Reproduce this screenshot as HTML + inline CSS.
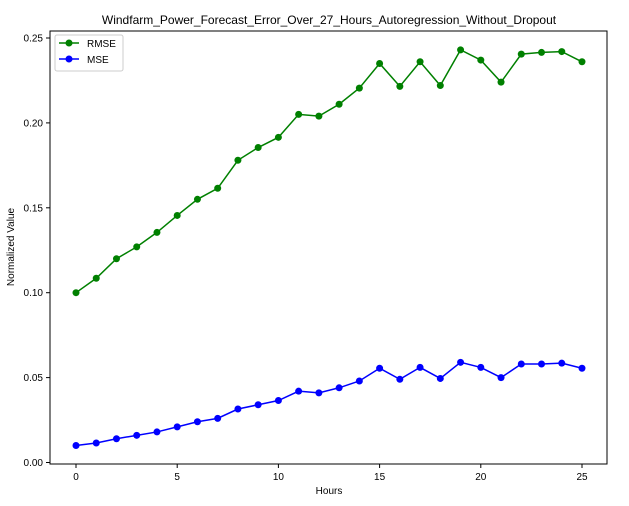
<!DOCTYPE html>
<html><head><meta charset="utf-8"><style>
body{margin:0;background:#fff;}
svg text{font-family:"Liberation Sans","DejaVu Sans",sans-serif;}
</style></head><body>
<svg id="chart" width="629" height="501" viewBox="0 0 629 501">
<rect width="629" height="501" fill="#fff"/>
<text x="329" y="24" text-anchor="middle" font-size="12">Windfarm_Power_Forecast_Error_Over_27_Hours_Autoregression_Without_Dropout</text>
<g id="grid"></g>
<g id="series"></g>
<rect x="50" y="31" width="557" height="433" fill="none" stroke="#000" stroke-width="1"/>
<text x="329" y="494" text-anchor="middle" font-size="10">Hours</text>
<text transform="translate(14,247) rotate(-90)" text-anchor="middle" font-size="10">Normalized Value</text>
<g>
<rect x="55" y="35" width="68" height="36" fill="#fff" stroke="#ccc" rx="2"/>
<g><line x1="59" y1="43" x2="79" y2="43" stroke="green" stroke-width="1.5"/><circle cx="69" cy="43" r="3.5" fill="green"/><text x="87" y="47" font-size="10">RMSE</text></g>
<g><line x1="59" y1="59" x2="79" y2="59" stroke="blue" stroke-width="1.5"/><circle cx="69" cy="59" r="3.5" fill="blue"/><text x="87" y="63" font-size="10">MSE</text></g>
</g>
</svg>
<script>
const hours=[0,1,2,3,4,5,6,7,8,9,10,11,12,13,14,15,16,17,18,19,20,21,22,23,24,25];
const rmse=[0.100,0.1085,0.120,0.127,0.1355,0.1455,0.155,0.1615,0.178,0.1855,0.1915,0.205,0.204,0.211,0.2205,0.235,0.2215,0.236,0.222,0.243,0.237,0.224,0.2405,0.2415,0.242,0.236];
const mse=[0.010,0.0115,0.014,0.016,0.018,0.021,0.024,0.026,0.0315,0.034,0.0365,0.042,0.041,0.044,0.048,0.0555,0.049,0.056,0.0495,0.059,0.056,0.050,0.058,0.058,0.0585,0.0555];
const xTicks=[0,5,10,15,20,25];
const yTicks=[0,0.05,0.10,0.15,0.20,0.25];
const yTickLabels=["0.00","0.05","0.10","0.15","0.20","0.25"];
const NS="http://www.w3.org/2000/svg";
function xs(v){return 76+v*20.24;}
function ys(v){return 462.5-v*1698;}
const svg=document.getElementById('chart');
const grid=document.getElementById('grid');
function mk(tag,attrs,parent){const e=document.createElementNS(NS,tag);for(const k in attrs)e.setAttribute(k,attrs[k]);parent.appendChild(e);return e;}
xTicks.forEach(t=>{
  const l=mk('line',{x1:xs(t),x2:xs(t),y1:464,y2:468,stroke:'#000'},grid);
  
  
  const tx=mk('text',{x:xs(t),y:480,'text-anchor':'middle','font-size':10},grid);tx.textContent=t;
  
  
});
yTicks.forEach((t,i)=>{
  const l=mk('line',{x1:46,x2:50,y1:ys(t),y2:ys(t),stroke:'#000'},grid);
  
  
  const tx=mk('text',{x:43,y:ys(t)+3.5,'text-anchor':'end','font-size':10},grid);tx.textContent=yTickLabels[i];
  
  
});
const sg=document.getElementById('series');
function draw(vals,color,name){
  const p=mk('polyline',{points:hours.map((h,i)=>xs(h)+','+ys(vals[i])).join(' '),fill:'none',stroke:color,'stroke-width':1.5},sg);
  
  
  hours.forEach((h,i)=>{
    const c=mk('circle',{cx:xs(h),cy:ys(vals[i]),r:3.5,fill:color},sg);
    
    
  });
}
draw(rmse,'green','rmse');
draw(mse,'blue','mse');
</script>
</body></html>
